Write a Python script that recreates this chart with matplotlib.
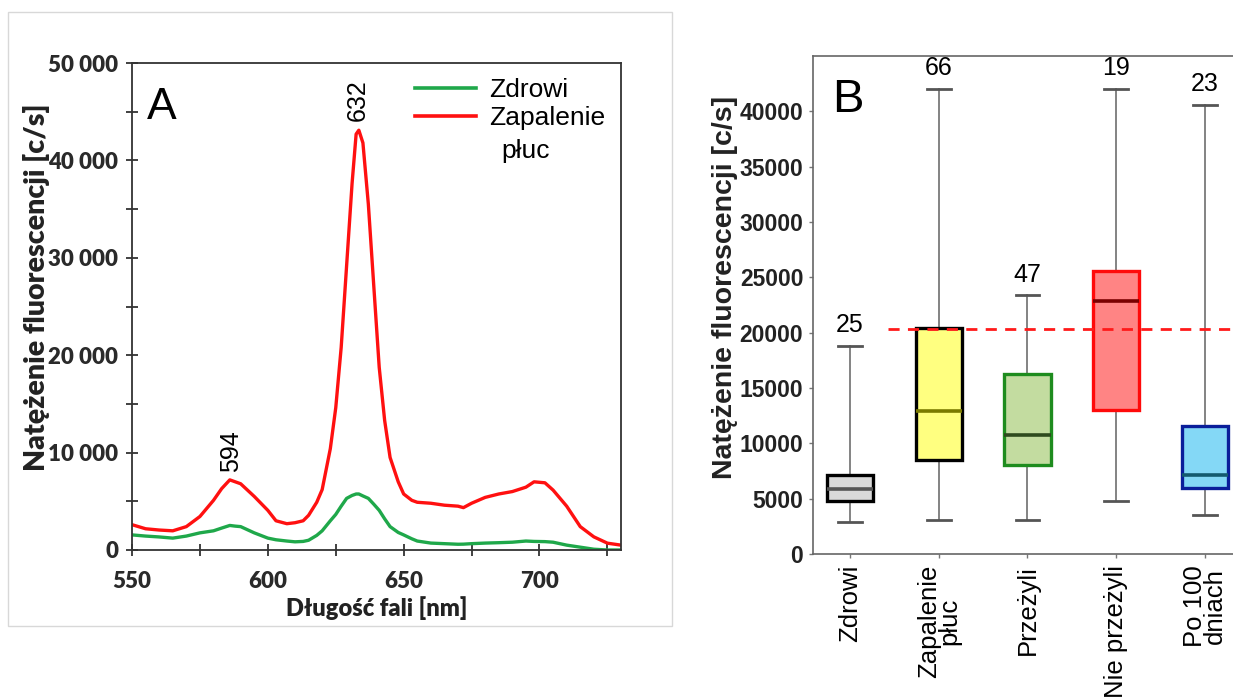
import matplotlib
matplotlib.use("Agg")
import matplotlib.pyplot as plt
from matplotlib.patches import Rectangle
from matplotlib.lines import Line2D

# Panel A - widmo fluorescencji
dlugosc_fali = [550, 555, 560, 565, 570, 575, 580, 583, 586, 588, 590, 595, 600, 603, 607,
                610, 613, 615, 618, 620, 623, 625, 627, 629, 631, 632.5, 633.5, 635, 637,
                639, 641, 643, 645, 648, 650, 653, 655, 660, 665, 670, 672, 675, 680, 685,
                690, 695, 698, 702, 705, 710, 715, 720, 725, 730]
zapalenie = [2600, 2180, 2050, 1970, 2400, 3440, 5100, 6300, 7200, 7000, 6800, 5500, 4070,
             3000, 2700, 2800, 3000, 3560, 4900, 6200, 10400, 14600, 20800, 29200, 37600,
             42700, 43100, 41800, 35500, 27100, 18750, 13300, 9500, 7000, 5750, 5100, 4900,
             4800, 4600, 4500, 4350, 4800, 5400, 5750, 6000, 6450, 7000, 6900, 6150, 4500,
             2400, 1350, 700, 500]
zdrowi = [1550, 1430, 1340, 1220, 1430, 1760, 1970, 2250, 2520, 2450, 2400, 1760, 1220,
          1050, 920, 840, 880, 1000, 1500, 1970, 3000, 3650, 4500, 5300, 5600, 5750, 5750,
          5550, 5300, 4700, 4070, 3200, 2400, 1800, 1550, 1150, 920, 710, 650, 590, 600,
          650, 710, 750, 800, 920, 880, 860, 800, 500, 290, 80, 0, 0]

# Panel B - wykres pudelkowy
grupy = ["Zdrowi", "Zapalenie\npłuc", "Przeżyli", "Nie przeżyli", "Po 100\ndniach"]
liczebnosc = [25, 66, 47, 19, 23]
wasy_dol = [2890, 3090, 3090, 4750, 3550]
q1 = [4780, 8480, 8030, 12990, 5950]
mediana = [5870, 12900, 10760, 22850, 7150]
q3 = [7130, 20400, 16240, 25550, 11570]
wasy_gora = [18770, 42050, 23360, 42050, 40600]
prog = 20300

kolory_wypelnienia = ["#d9d9d9", "#ffff80", "#c3dca0", "#ff8484", "#84d8f6"]
kolory_krawedzi = ["#000000", "#000000", "#1e8c1e", "#ff0a0a", "#0a1e9a"]
kolory_mediany = ["#555555", "#7a7a00", "#2e4a1e", "#7a0000", "#145a6e"]

fig = plt.figure(figsize=(12.33, 6.98), dpi=100)

# ramka wokol panelu A
fig.patches.append(Rectangle((8 / 1233, 1 - 626 / 698), 664 / 1233, 614 / 698,
                             transform=fig.transFigure, fill=False,
                             edgecolor="#d8d8d8", linewidth=1))

axA = fig.add_axes([132 / 1233, 1 - 550 / 698, 489 / 1233, 487 / 698])
axA.plot(dlugosc_fali, zdrowi, color="#1fa84a", linewidth=2.4)
axA.plot(dlugosc_fali, zapalenie, color="#ff1010", linewidth=2.4)
axA.set_xlim(550, 730)
axA.set_ylim(0, 50000)
axA.set_xticks([550, 600, 650, 700])
axA.set_xticks([575, 625, 675, 725], minor=True)
axA.set_yticks(range(0, 50001, 10000))
axA.set_yticks(range(5000, 50000, 10000), minor=True)
axA.set_yticklabels(["0", "10 000", "20 000", "30 000", "40 000", "50 000"])
axA.tick_params(which="both", direction="inout", length=8, width=1.3, color="#333333",
                labelsize=16, pad=6)
for lab in axA.get_xticklabels() + axA.get_yticklabels():
    lab.set_fontfamily("Lato")
    lab.set_fontweight("heavy")
    lab.set_color("#2a2a2a")
axA.tick_params(axis="x", pad=11)
for s in axA.spines.values():
    s.set_color("#333333")
    s.set_linewidth(1.3)
axA.set_xlabel("Długość fali [nm]", fontfamily="Lato", fontweight="heavy", fontsize=17,
               color="#222222", labelpad=3)
axA.set_ylabel("Natężenie fluorescencji [c/s]", fontfamily="Lato", fontweight="heavy",
               fontsize=20.5, color="#222222")
axA.yaxis.set_label_coords(-0.168, 0.54)

axA.text(0.03, 0.95, "A", transform=axA.transAxes, fontsize=32, family="Liberation Sans",
         va="top", ha="left")
axA.text(633, 44000, "632", rotation=90, ha="center", va="bottom", fontsize=18,
         family="Liberation Sans")
axA.text(586.5, 8000, "594", rotation=90, ha="center", va="bottom", fontsize=18,
         family="Liberation Sans")

uchwyty = [Line2D([], [], color="#1fa84a", linewidth=2.6),
           Line2D([], [], color="#ff1010", linewidth=2.6)]
axA.legend(uchwyty, ["Zdrowi", "Zapalenie"], loc="upper left",
           bbox_to_anchor=(0.53, 1.018), frameon=False, handlelength=2.3,
           handletextpad=0.5, labelspacing=0.15,
           prop={"family": "Liberation Sans", "size": 19})
axA.text(0.755, 0.82, "płuc", transform=axA.transAxes, fontsize=19,
         family="Liberation Sans", va="center", ha="left")

# Panel B
axB = fig.add_axes([813 / 1233, 1 - 554 / 698, 420 / 1233, 498 / 698])
statystyki = []
for i in range(len(grupy)):
    statystyki.append({"med": mediana[i], "q1": q1[i], "q3": q3[i],
                       "whislo": wasy_dol[i], "whishi": wasy_gora[i], "fliers": []})
pozycje = list(range(1, len(grupy) + 1))
bp = axB.bxp(statystyki, positions=pozycje, widths=0.52, capwidths=0.27,
             patch_artist=True, showfliers=False,
             whiskerprops={"color": "#7a7a7a", "linewidth": 1.3},
             capprops={"color": "#555555", "linewidth": 2.0})
for i, pudelko in enumerate(bp["boxes"]):
    pudelko.set_facecolor(kolory_wypelnienia[i])
    pudelko.set_edgecolor(kolory_krawedzi[i])
    pudelko.set_linewidth(2.4)
    pudelko.set_zorder(3)
for i, med in enumerate(bp["medians"]):
    med.set_color(kolory_mediany[i])
    med.set_linewidth(2.6)
    med.set_zorder(4)

axB.axhline(prog, xmin=(888 - 813) / 420, xmax=1, color="#ff1a1a", linewidth=2,
            linestyle=(0, (4, 3)), zorder=5)

for i in range(len(grupy)):
    axB.text(pozycje[i], wasy_gora[i] + 800, str(liczebnosc[i]), ha="center", va="bottom",
             fontsize=18, family="Liberation Sans")

axB.set_xlim(0.583, 5.316)
axB.set_ylim(0, 45000)
axB.set_yticks(range(0, 40001, 5000))
axB.set_xticks(pozycje)
axB.set_xticklabels(grupy, rotation=90, ha="center", va="top", linespacing=0.8,
                    fontsize=18.5, family="Liberation Sans")
axB.set_yticklabels([str(v) for v in range(0, 40001, 5000)], fontsize=16.5,
                    family="Liberation Sans", fontweight="bold", color="#222222")
axB.tick_params(length=3, color="#777777", width=1)
axB.tick_params(axis="x", pad=5)
axB.tick_params(axis="y", pad=4)
axB.spines["right"].set_visible(False)
for s in ["left", "top", "bottom"]:
    axB.spines[s].set_color("#666666")
    axB.spines[s].set_linewidth(1.2)
axB.set_ylabel("Natężenie fluorescencji [c/s]", fontsize=20.5, family="Liberation Sans",
               fontweight="bold", color="#222222")
axB.yaxis.set_label_coords(-0.178, 0.536)
axB.text(0.045, 0.955, "B", transform=axB.transAxes, fontsize=34, family="Liberation Sans",
         va="top", ha="left")

fig.savefig("out.png", dpi=100)
